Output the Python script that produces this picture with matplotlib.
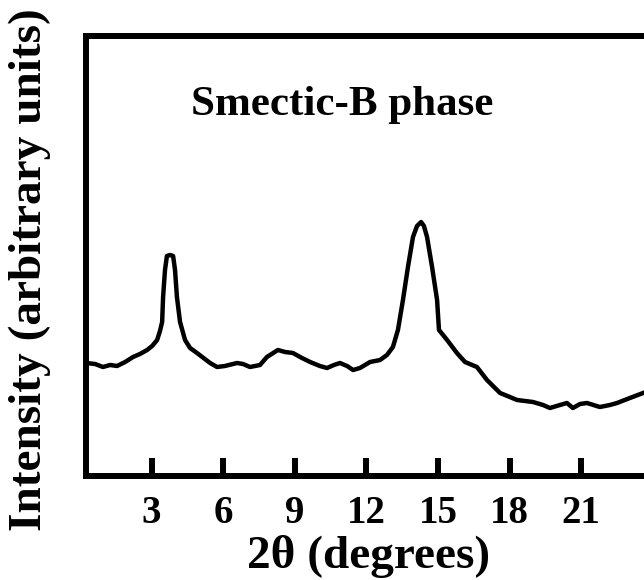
import matplotlib
matplotlib.use("Agg")
import matplotlib.pyplot as plt

# 2-theta (degrees) and intensity (arbitrary units)
two_theta = [0.25, 0.63, 0.96, 1.26, 1.55, 1.89, 2.22, 2.51, 2.81, 3.02, 3.23, 3.35,
             3.44, 3.48, 3.56, 3.64, 3.77, 3.90, 3.98, 4.06, 4.19, 4.40, 4.61, 4.90,
             5.45, 5.74, 6.07, 6.58, 6.83, 7.12, 7.54, 7.83, 8.29, 8.59, 8.92, 9.30,
             9.64, 10.05, 10.35, 10.64, 10.89, 11.19, 11.44, 11.73, 12.15, 12.57, 12.86,
             13.11, 13.32, 13.53, 13.74, 13.95, 14.12, 14.29, 14.41, 14.54, 14.75, 14.96,
             15.04, 15.38, 15.79, 16.13, 16.63, 17.05, 17.60, 18.01, 18.31, 18.98, 19.40,
             19.69, 20.11, 20.40, 20.65, 20.95, 21.24, 21.78, 22.20, 22.50, 23.04, 23.59]
intensity = [113, 112, 109, 111, 110, 114, 119, 122, 126, 130, 136, 145,
             154, 179, 206, 220, 221, 220, 206, 179, 154, 136, 128, 123,
             113, 109, 110, 113, 112, 109, 111, 119, 126, 124, 123, 118,
             114, 110, 108, 111, 113, 110, 106, 108, 114, 116, 121,
             129, 146, 176, 209, 239, 250, 254, 250, 239, 209, 176,
             146, 136, 123, 114, 109, 96, 83, 79, 76, 74, 71,
             68, 71, 73, 68, 72, 73, 69, 71, 73, 78, 83]

x_ticks = [3, 6, 9, 12, 15, 18, 21]
x_tick_labels = ["3", "6", "9", "12", "15", "18", "21"]

title_text = "Smectic-B phase"
x_label = "2θ (degrees)"
y_label = "Intensity (arbitrary units)"

serif = ["Liberation Serif", "DejaVu Serif"]

fig = plt.figure(figsize=(6.44, 5.80), dpi=100)
ax = fig.add_axes([86 / 644, 104 / 580, 1 - 86 / 644, (476 - 36) / 580])

ax.plot(two_theta, intensity, color="black", lw=3.2, solid_joinstyle="round")

ax.set_xlim(0.25, 23.63)
ax.set_ylim(0, 440)

for s in ["top", "left", "bottom"]:
    ax.spines[s].set_linewidth(4.3)
    ax.spines[s].set_color("black")
ax.spines["right"].set_visible(False)

ax.set_yticks([])
ax.set_xticks(x_ticks)
ax.set_xticklabels(x_tick_labels, fontfamily=serif, fontweight="bold", fontsize=28)
ax.tick_params(axis="x", direction="in", length=13, width=4.3, pad=14, color="black")

fig.text(342 / 644, 1 - 105 / 580, title_text, ha="center", va="center",
         fontfamily=serif, fontweight="bold", fontsize=31)
fig.text(369 / 644, 1 - 557 / 580, x_label, ha="center", va="center",
         fontfamily=serif, fontweight="bold", fontsize=34)
fig.text(30 / 644, 1 - 270 / 580, y_label, ha="center", va="center", rotation=90,
         fontfamily=serif, fontweight="bold", fontsize=34)

fig.savefig("out.png", dpi=100)
